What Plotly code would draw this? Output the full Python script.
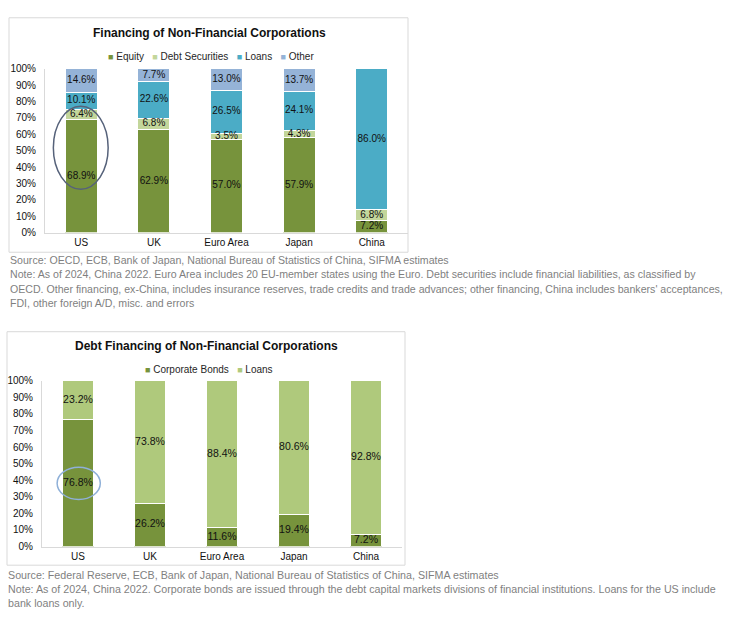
import plotly.graph_objects as go

W, H = 736, 633

# ---------------- data ----------------
countries = ["US", "UK", "Euro Area", "Japan", "China"]

# Chart 1: Financing of Non-Financial Corporations (%)
fin_series = ["Equity", "Debt Securities", "Loans", "Other"]
equity = [68.9, 62.9, 57.0, 57.9, 7.2]
debt_securities = [6.4, 6.8, 3.5, 4.3, 6.8]
loans = [10.1, 22.6, 26.5, 24.1, 86.0]
other = [14.6, 7.7, 13.0, 13.7, 0.0]
fin_colors = ["#77933c", "#c3d69b", "#4bacc6", "#95b3d7"]

# Chart 2: Debt Financing of Non-Financial Corporations (%)
debt_series = ["Corporate Bonds", "Loans"]
corporate_bonds = [76.8, 26.2, 11.6, 19.4, 7.2]
debt_loans = [23.2, 73.8, 88.4, 80.6, 92.8]
debt_colors = ["#77933c", "#afc97c"]

title1 = "Financing of Non-Financial Corporations"
title2 = "Debt Financing of Non-Financial Corporations"

notes1 = [
    "Source: OECD, ECB, Bank of Japan, National Bureau of Statistics of China, SIFMA estimates",
    "Note: As of 2024, China 2022. Euro Area includes 20 EU-member states using the Euro. Debt securities include financial liabilities, as classified by",
    "OECD. Other financing, ex-China, includes insurance reserves, trade credits and trade advances; other financing, China includes bankers' acceptances,",
    "FDI, other foreign A/D, misc. and errors",
]
notes2 = [
    "Source: Federal Reserve, ECB, Bank of Japan, National Bureau of Statistics of China, SIFMA estimates",
    "Note: As of 2024, China 2022. Corporate bonds are issued through the debt capital markets divisions of financial institutions. Loans for the US include",
    "bank loans only.",
]

FONT = "Liberation Sans, Arial, sans-serif"


def px(x):
    return x / W


def py(y):
    return 1 - y / H


def label(v):
    return f"{v:.1f}%" if v > 0 else ""


fig = go.Figure()


def add_stack(series_names, series_vals, colors, xa, ya, fsize):
    base = [0.0] * len(countries)
    for name, vals, col in zip(series_names, series_vals, colors):
        fig.add_trace(go.Bar(
            x=countries, y=vals, name=name, xaxis=xa, yaxis=ya,
            marker=dict(color=col, line=dict(color="white", width=1)),
            showlegend=False, hoverinfo="skip",
        ))
        mids = [b + v / 2 for b, v in zip(base, vals)]
        fig.add_trace(go.Scatter(
            x=countries, y=mids, mode="text", text=[label(v) for v in vals],
            textposition="middle center", xaxis=xa, yaxis=ya, cliponaxis=False,
            textfont=dict(family=FONT, size=fsize, color="#111111"),
            showlegend=False, hoverinfo="skip",
        ))
        base = [b + v for b, v in zip(base, vals)]


add_stack(fin_series, [equity, debt_securities, loans, other], fin_colors, "x", "y", 10)
add_stack(debt_series, [corporate_bonds, debt_loans], debt_colors, "x2", "y2", 10.5)

axis_common = dict(showgrid=False, zeroline=False, showline=True, linecolor="#d9d9d9",
                   linewidth=1, ticks="", tickfont=dict(family=FONT, size=10, color="#111111"))
yaxis_common = dict(axis_common, range=[0, 100], tickmode="array",
                    tickvals=list(range(0, 101, 10)),
                    ticktext=[f"{t}%" for t in range(0, 101, 10)],
                    ticklabelstandoff=6)

annotations = []
shapes = []

# boxes
shapes.append(dict(type="rect", xref="paper", yref="paper", x0=px(9), x1=px(408),
                   y0=py(251), y1=py(12), line=dict(color="#d9d9d9", width=1), layer="below"))
shapes.append(dict(type="rect", xref="paper", yref="paper", x0=px(7), x1=px(405),
                   y0=py(570), y1=py(332), line=dict(color="#d9d9d9", width=1), layer="below"))

# highlight ellipses
shapes.append(dict(type="circle", xref="x", yref="y", x0=-0.385, x1=0.37, y0=26.5, y1=77.1,
                   line=dict(color="#56627a", width=1.5)))
shapes.append(dict(type="circle", xref="x2", yref="y2", x0=-0.29, x1=0.31, y0=28.4, y1=47.9,
                   line=dict(color="#8fb0d8", width=1.5)))


def txt(text, x, y, size, color, xanchor="center", bold=False):
    annotations.append(dict(
        text=f"<b>{text}</b>" if bold else text, x=px(x), y=py(y),
        xref="paper", yref="paper", xanchor=xanchor, yanchor="middle",
        showarrow=False, font=dict(family=FONT, size=size, color=color)))


# titles
txt(title1, 209, 28, 12, "#111111", bold=True)
txt(title2, 206, 347, 12, "#111111", bold=True)


def legend_text(names, colors):
    sep = "&nbsp;&nbsp;&nbsp;"
    return sep.join(f'<span style="color:{c};font-size:9px">■</span> {n}' for n, c in zip(names, colors))


txt(legend_text(fin_series, fin_colors), 211, 51, 10, "#262626")
txt(legend_text(debt_series, debt_colors), 209, 371, 10, "#262626")

for i, line in enumerate(notes1):
    txt(line, 8, 259 + 14.5 * i, 10.6, "#7f7f7f", xanchor="left")
for i, line in enumerate(notes2):
    txt(line, 6, 580 + 14.5 * i, 10.7, "#7f7f7f", xanchor="left")

fig.update_layout(
    width=W, height=H,
    margin=dict(l=0, r=0, t=0, b=0),
    paper_bgcolor="white", plot_bgcolor="white",
    barmode="stack", bargap=0.56,
    showlegend=False,
    xaxis=dict(axis_common, domain=[px(45), px(408)], anchor="y"),
    yaxis=dict(yaxis_common, domain=[py(231), py(64)], anchor="x"),
    xaxis2=dict(axis_common, domain=[px(42), px(402)], anchor="y2"),
    yaxis2=dict(yaxis_common, domain=[py(551), py(382)], anchor="x2"),
    annotations=annotations,
    shapes=shapes,
)

fig.write_html("out.html")
